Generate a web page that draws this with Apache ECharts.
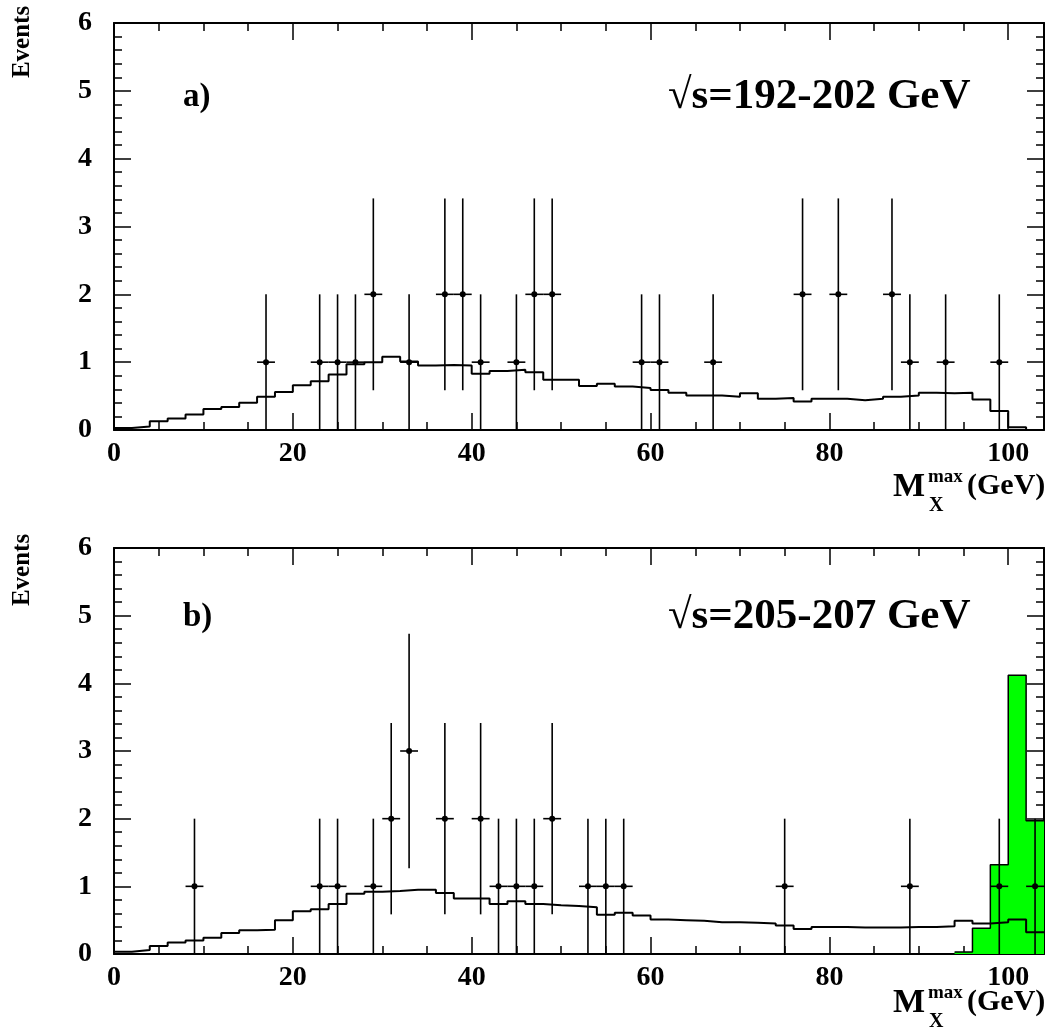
<!DOCTYPE html>
<html>
<head>
<meta charset="utf-8">
<script src="https://cdn.jsdelivr.net/npm/echarts@6/dist/echarts.min.js"></script>
<style>
html,body{margin:0;padding:0;background:#fff;}
#chart{width:1047px;height:1030px;}
</style>
</head>
<body>
<div id="chart"></div>
<script>
// ---------- DATA ----------
const binWidth = 2;            // GeV
const xMin = 0, xMax = 104;
const yTicks = [0, 1, 2, 3, 4, 5, 6];
const xTicks = [0, 20, 40, 60, 80, 100];

// Background expectation, panel a), bins of 2 GeV from 0 to 104
const bkgA = [0.03,0.05,0.13,0.17,0.23,0.31,0.34,0.40,0.49,0.56,
              0.66,0.72,0.82,0.97,1.00,1.08,1.01,0.95,0.96,0.95,
              0.83,0.87,0.89,0.85,0.74,0.74,0.65,0.68,0.64,0.62,
              0.59,0.55,0.51,0.51,0.49,0.54,0.46,0.47,0.42,0.46,
              0.46,0.44,0.46,0.49,0.51,0.55,0.54,0.55,0.45,0.28,
              0.04,0.00];
// Background expectation, panel b)
const bkgB = [0.035,0.06,0.12,0.17,0.20,0.24,0.31,0.35,0.36,0.50,
              0.63,0.66,0.74,0.89,0.92,0.93,0.95,0.95,0.90,0.82,
              0.82,0.74,0.78,0.74,0.72,0.71,0.69,0.58,0.61,0.57,
              0.51,0.50,0.49,0.47,0.47,0.46,0.45,0.42,0.37,0.40,
              0.40,0.39,0.39,0.39,0.40,0.40,0.41,0.49,0.45,0.47,
              0.51,0.32];
// Signal (green) panel b): lower bin edges and contents
const sigEdges = [94, 96, 98, 100, 102];
const sigVals  = [0.03, 0.38, 1.32, 4.12, 1.97];

// Observed data: bin centres and counts
const dataAx = [17,23,25,27,29,33,37,39,41,45,47,49,59,61,67,77,81,87,89,93,99];
const dataAn = [ 1, 1, 1, 1, 2, 1, 2, 2, 1, 1, 2, 2, 1, 1, 1, 2, 2, 2, 1, 1, 1];
const dataBx = [9,23,25,29,31,33,37,41,43,45,47,49,53,55,57,75,89,99,103];
const dataBn = [1, 1, 1, 1, 2, 3, 2, 2, 1, 1, 1, 2, 1, 1, 1, 1, 1, 1, 1];

const labelA = 'a)', energyA = '\u221As=192-202 GeV';
const labelB = 'b)', energyB = '\u221As=205-207 GeV';
const yTitle = 'Events';

// ---------- BUILD ----------
function stepData(vals, start) {
  const d = [];
  for (let i = 0; i < vals.length; i++) d.push([start + i * binWidth, vals[i]]);
  d.push([start + vals.length * binWidth, vals[vals.length - 1]]);
  return d;
}
function pts(xs, ns) { return xs.map((x, i) => [x, ns[i]]); }

const FONT = '"Liberation Serif", "Times New Roman", serif';
const grids = [
  {left: 114, right: 3, top: 23, height: 407},
  {left: 114, right: 3, top: 548, height: 406}
];

function xAx(g, top) {
  return {
    type: 'value', gridIndex: g, min: xMin, max: xMax, interval: 20,
    position: top ? 'top' : 'bottom',
    axisLine: {show: true, onZero: false, lineStyle: {color: '#000', width: 2}},
    axisTick: {show: true, inside: true, length: 17, lineStyle: {color: '#000', width: 1.5}},
    minorTick: {show: true, splitNumber: 4, length: 8, lineStyle: {color: '#000', width: 1.5}},
    axisLabel: {show: !top, margin: 10, color: '#000', fontFamily: FONT, fontWeight: 'bold', fontSize: 28,
      formatter: v => xTicks.includes(v) ? String(v) : ''},
    splitLine: {show: false}
  };
}
function yAx(g, right) {
  return {
    type: 'value', gridIndex: g, min: 0, max: 6, interval: 1,
    position: right ? 'right' : 'left',
    axisLine: {show: true, onZero: false, lineStyle: {color: '#000', width: 2}},
    axisTick: {show: true, inside: true, length: 17, lineStyle: {color: '#000', width: 1.5}},
    minorTick: {show: true, splitNumber: 5, length: 8, lineStyle: {color: '#000', width: 1.5}},
    axisLabel: {show: !right, margin: 22, color: '#000', fontFamily: FONT, fontWeight: 'bold', fontSize: 28,
      formatter: v => yTicks.includes(v) ? String(v) : ''},
    splitLine: {show: false}
  };
}

function errSeries(xi, yi, data) {
  return {
    type: 'custom', xAxisIndex: xi, yAxisIndex: yi, z: 10, data: data,
    renderItem: function (params, api) {
      const x = api.value(0), n = api.value(1), e = Math.sqrt(n);
      const c = api.coord([x, n]);
      const lo = api.coord([x, Math.max(0, n - e)]);
      const hi = api.coord([x, n + e]);
      const l = api.coord([x - binWidth / 2, n]);
      const r = api.coord([x + binWidth / 2, n]);
      const st = {stroke: '#000', lineWidth: 1.6};
      return {type: 'group', children: [
        {type: 'line', shape: {x1: c[0], y1: lo[1], x2: c[0], y2: hi[1]}, style: st},
        {type: 'line', shape: {x1: l[0], y1: c[1], x2: r[0], y2: c[1]}, style: st},
        {type: 'circle', shape: {cx: c[0], cy: c[1], r: 3}, style: {fill: '#000'}}
      ]};
    }
  };
}

function histSeries(xi, yi, vals, start, z) {
  return {
    type: 'line', xAxisIndex: xi, yAxisIndex: yi, step: 'end', symbol: 'none', z: z,
    data: stepData(vals, start), lineStyle: {color: '#000', width: 2}, silent: true
  };
}

function txt(x, y, text, size, extra) {
  return {type: 'text', x: x, y: y, style: Object.assign({
    text: text, fill: '#000', font: 'bold ' + size + 'px ' + FONT,
    align: 'left', verticalAlign: 'middle'}, extra || {})};
}

function axisTitle(dy) {
  return [
    txt(893, 487 + dy, 'M', 34),
    txt(928, 477 + dy, 'max', 19),
    txt(929, 506 + dy, 'X', 20),
    txt(967, 486 + dy, '(GeV)', 30)
  ];
}

function vText(x, y) {
  return {type: 'text', x: x, y: y, rotation: Math.PI / 2,
    style: {text: yTitle, fill: '#000', font: 'bold 25px ' + FONT, align: 'center', verticalAlign: 'middle'}};
}

const graphics = [
  txt(183, 97, labelA, 33),
  txt(668, 97, energyA, 43),
  txt(183, 617, labelB, 33),
  txt(668, 617, energyB, 43),
  vText(23, 42),
  vText(23, 570)
].concat(axisTitle(0), axisTitle(516));

const sigSeries = {
  type: 'line', xAxisIndex: 1, yAxisIndex: 1, step: 'end', symbol: 'none', z: 2,
  data: stepData(sigVals, sigEdges[0]),
  lineStyle: {color: '#000', width: 1.5},
  areaStyle: {color: '#00ff00', opacity: 1, origin: 'start'}, silent: true
};

const option = {
  animation: false,
  backgroundColor: '#fff',
  grid: grids,
  xAxis: [xAx(0, false), xAx(1, false), xAx(0, true), xAx(1, true)],
  yAxis: [yAx(0, false), yAx(1, false), yAx(0, true), yAx(1, true)],
  graphic: graphics,
  series: [
    histSeries(0, 0, bkgA, xMin, 5),
    errSeries(0, 0, pts(dataAx, dataAn)),
    sigSeries,
    histSeries(1, 1, bkgB, xMin, 5),
    errSeries(1, 1, pts(dataBx, dataBn))
  ]
};

const chart = echarts.init(document.getElementById('chart'), null, {renderer: 'canvas'});
chart.setOption(option);
</script>
</body>
</html>
